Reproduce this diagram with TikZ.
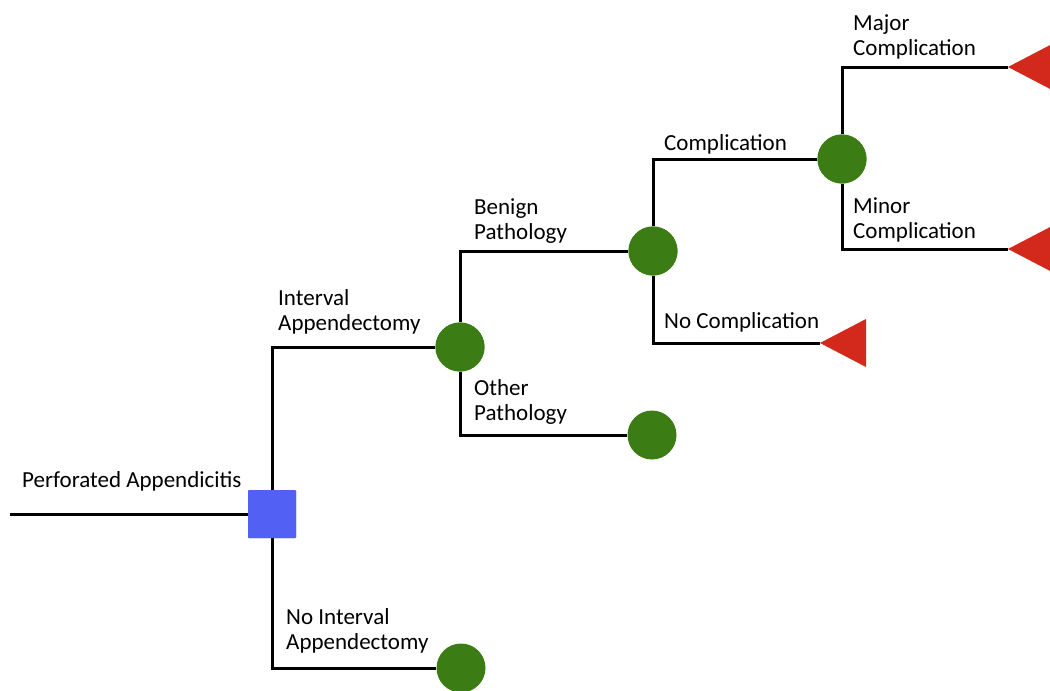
\documentclass[tikz,border=0pt]{standalone}
\usepackage{fontspec}
\setmainfont{Carlito}
\definecolor{dgreen}{HTML}{3B7D14}
\definecolor{dblue}{HTML}{5260F4}
\definecolor{dred}{HTML}{D2291C}
\begin{document}
\begin{tikzpicture}[x=1pt,y=-1pt,
  conn/.style={line width=3pt,black},
  decision/.style={fill=dblue,minimum size=48pt,inner sep=0pt,draw=none,rounded corners=1pt},
  chance/.style={circle,fill=dgreen,minimum size=49pt,inner sep=0pt,draw=none},
  lbl/.style={font=\fontsize{23}{25}\selectfont,align=left,anchor=base west,inner sep=0pt},
  term/.style={fill=dred}]
\useasboundingbox (0,0) rectangle (1050,691);
% node positions
\coordinate (start) at (10,514);
\node[decision] (root) at (272,514) {};
\node[chance] (c1) at (460,347) {};
\node[chance] (c4) at (461,668) {};
\node[chance] (c2) at (653,251) {};
\node[chance] (c5) at (652,435) {};
\node[chance] (c3) at (842,159) {};
\coordinate (t1) at (1008,67);
\coordinate (t2) at (1008,249);
\coordinate (t3) at (820,343);
% connectors
\draw[conn] (start) -- (root.west);
\draw[conn] (root) |- (c1);
\draw[conn] (root) |- (c4);
\draw[conn] (c1) |- (c2);
\draw[conn] (c1) |- (c5);
\draw[conn] (c2) |- (c3);
\draw[conn] (c2) |- (t3);
\draw[conn] (c3) |- (t1);
\draw[conn] (c3) |- (t2);
% redraw shapes on top of the connectors
\node[decision] at (root) {};
\node[chance] at (c1) {};
\node[chance] at (c2) {};
\node[chance] at (c3) {};
% terminal triangles
\fill[term] (t1) -- ++(46,-24) -- ++(0,48) -- cycle;
\fill[term] (t2) -- ++(46,-24) -- ++(0,48) -- cycle;
\fill[term] (t3) -- ++(46,-24) -- ++(0,48) -- cycle;
% labels (anchor = baseline of last line)
\node[lbl] (l0) at (22,487) {Perforated Appendicitis};
\node[lbl] (l1) at (278,330) {Interval\\Appendectomy};
\node[lbl] (l2) at (286,649) {No Interval\\Appendectomy};
\node[lbl] (l3) at (474,239) {Benign\\Pathology};
\node[lbl] (l4) at (474,420) {Other\\Pathology};
\node[lbl] (l5) at (664,150) {Complication};
\node[lbl] (l6) at (664,328) {No Complication};
\node[lbl] (l7) at (853,55) {Major\\Complication};
\node[lbl] (l8) at (853,238) {Minor\\Complication};
\end{tikzpicture}
\end{document}
